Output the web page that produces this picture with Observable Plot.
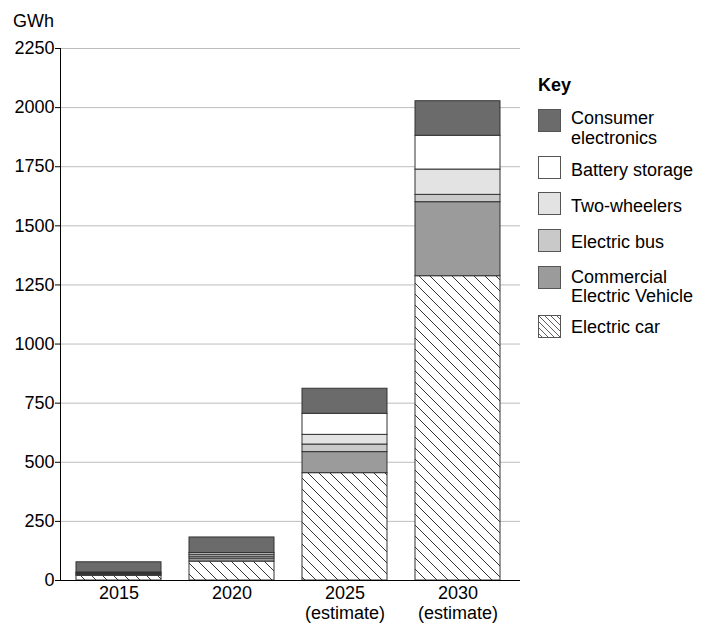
<!DOCTYPE html>
<html>
<head>
<meta charset="utf-8">
<script src="https://cdn.jsdelivr.net/npm/d3@7"></script>
<script src="https://cdn.jsdelivr.net/npm/@observablehq/plot@0.6"></script>
<style>
  html, body { margin: 0; padding: 0; background: #fff; }
  #wrap { position: relative; width: 704px; height: 623px; font-family: "Liberation Sans", Arial, sans-serif; color: #000; }
  #unit { position: absolute; left: 13px; top: 11px; font-size: 18px; line-height: 20px; z-index: 2; }
  #legend { position: absolute; left: 0; top: 0; width: 704px; height: 623px; font-size: 18px; z-index: 2; pointer-events: none; }
  #legend .t { position: absolute; white-space: nowrap; line-height: 20px; }
  #legend svg { position: absolute; }
</style>
</head>
<body>
<div id="wrap">
  <div id="unit">GWh</div>
  <div id="legend"></div>
</div>
<script>
const years = ["2015", "2020", "2025", "2030"];
const yearLabels = ["2015", "2020", "2025\n(estimate)", "2030\n(estimate)"];
const series = ["Electric car", "Commercial Electric Vehicle", "Electric bus", "Two-wheelers", "Battery storage", "Consumer electronics"];
const electricCar = [20, 80, 454, 1287];
const commercialEV = [4, 13, 89, 313];
const electricBus = [3, 8, 32, 31];
const twoWheelers = [4, 8, 41, 107];
const batteryStorage = [3, 7, 89, 143];
const consumerElectronics = [43, 66, 106, 146];
const yTicks = [0, 250, 500, 750, 1000, 1250, 1500, 1750, 2000, 2250];
const fills = ["url(#hatch)", "#9b9b9b", "#c9c9c9", "#e3e3e3", "#ffffff", "#6b6b6b"];
const legendTitle = "Key";
const legendKeys = ["Consumer electronics", "Battery storage", "Two-wheelers", "Electric bus", "Commercial Electric Vehicle", "Electric car"];
const legendLines = [["Consumer", "electronics"], ["Battery storage"], ["Two-wheelers"], ["Electric bus"], ["Commercial", "Electric Vehicle"], ["Electric car"]];

const valuesBySeries = [electricCar, commercialEV, electricBus, twoWheelers, batteryStorage, consumerElectronics];
const data = [];
series.forEach((s, i) => years.forEach((y, j) => data.push({year: y, series: s, value: valuesBySeries[i][j]})));

const chart = Plot.plot({
  width: 704,
  height: 623,
  marginLeft: 60,
  marginRight: 184,
  marginTop: 48,
  marginBottom: 43,
  style: {fontSize: "18px", fontFamily: "'Liberation Sans', Arial, sans-serif", color: "#000", background: "#fff"},
  x: {domain: years, paddingInner: 0.25, paddingOuter: 0.15, align: 0.45, label: null},
  y: {domain: [0, 2250], label: null},
  color: {domain: series, range: fills},
  marks: [
    Plot.gridY(yTicks, {stroke: "#bdbdbd", strokeOpacity: 1}),
    Plot.barY(data, Plot.stackY({order: series}, {x: "year", y: "value", z: "series", fill: "series", stroke: "#333", strokeWidth: 1, inset: 0})),
    Plot.axisY(yTicks, {tickSize: 5, tickPadding: 1, tickFormat: d3.format("d"), stroke: "#000", label: null}),
    Plot.axisX({tickSize: 0, tickPadding: 5, tickFormat: (d) => yearLabels[years.indexOf(d)], lineHeight: 1.08, label: null}),
    Plot.frame({anchor: "left", stroke: "#000"}),
    Plot.ruleY([0], {stroke: "#000"})
  ]
});

const defs = d3.select(chart).insert("defs", ":first-child");
const pat = defs.append("pattern").attr("id", "hatch").attr("patternUnits", "userSpaceOnUse").attr("width", 11).attr("height", 11);
pat.append("rect").attr("width", 11).attr("height", 11).attr("fill", "#fff");
pat.append("path").attr("d", "M-2,-2L13,13M-2,9L2,13M9,-2L13,2").attr("stroke", "#333").attr("stroke-width", 1);

document.getElementById("wrap").appendChild(chart);
chart.style.position = "absolute";
chart.style.left = "0";
chart.style.top = "0";

// Legend (HTML overlay to the right of the plot)
const legend = document.getElementById("legend");
const lx = 538, tx = 571;
const title = document.createElement("div");
title.className = "t";
title.style.fontWeight = "bold";
title.style.left = lx + "px";
title.style.top = (85 - 10) + "px";
title.textContent = legendTitle;
legend.appendChild(title);

const swatchTops = [109, 156, 192, 229, 266, 315];
const lineCenters = [[118, 137.5], [169.5], [206], [241.5], [276.5, 296], [326.5]];
legendKeys.forEach((k, i) => {
  const fill = fills[series.indexOf(k)];
  const svg = d3.create("svg").attr("width", 24).attr("height", 24)
    .style("left", lx + "px").style("top", swatchTops[i] + "px");
  if (fill.startsWith("url")) {
    const p = svg.append("defs").append("pattern").attr("id", "hatchKey").attr("patternUnits", "userSpaceOnUse").attr("width", 6).attr("height", 6);
    p.append("rect").attr("width", 6).attr("height", 6).attr("fill", "#fff");
    p.append("path").attr("d", "M-1,-1L7,7M-1,5L1,7M5,-1L7,1").attr("stroke", "#333").attr("stroke-width", 0.8);
    svg.append("rect").attr("x", 0.5).attr("y", 0.5).attr("width", 22).attr("height", 22).attr("fill", "url(#hatchKey)").attr("stroke", "#555");
  } else {
    svg.append("rect").attr("x", 0.5).attr("y", 0.5).attr("width", 22).attr("height", 22).attr("fill", fill).attr("stroke", "#555");
  }
  legend.appendChild(svg.node());
  legendLines[i].forEach((line, j) => {
    const t = document.createElement("div");
    t.className = "t";
    t.style.left = tx + "px";
    t.style.top = (lineCenters[i][j] - 10) + "px";
    t.textContent = line;
    legend.appendChild(t);
  });
});
</script>
</body>
</html>
